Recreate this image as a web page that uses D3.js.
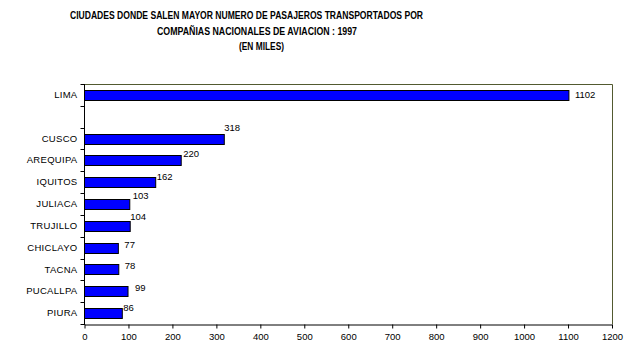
<!DOCTYPE html>
<html>
<head>
<meta charset="utf-8">
<script src="https://cdn.jsdelivr.net/npm/d3@7"></script>
<style>
  html, body { margin: 0; padding: 0; background: #fff; }
  svg { display: block; }
  text { font-family: "Liberation Sans", Arial, sans-serif; fill: #000; }
</style>
</head>
<body>
<svg id="chart" width="633" height="354"></svg>
<script>
// ---- data ----
const titleLines = [
  "CIUDADES DONDE SALEN MAYOR NUMERO DE PASAJEROS TRANSPORTADOS POR",
  "COMPAÑIAS NACIONALES DE AVIACION : 1997",
  "(EN MILES)"
];
const categories = ["LIMA", "", "CUSCO", "AREQUIPA", "IQUITOS", "JULIACA", "TRUJILLO", "CHICLAYO", "TACNA", "PUCALLPA", "PIURA"];
const values = [1102, null, 318, 220, 162, 103, 104, 77, 78, 99, 86];
const xTicks = [0, 100, 200, 300, 400, 500, 600, 700, 800, 900, 1000, 1100, 1200];
// hand-placed label nudges (layout only): [dx, dy] from bar end / bar centre
const labelNudge = [[6, 0], [0, 0], [0, -11.5], [2, -7], [1, -5.5], [3, -9], [0, -9], [6, -3.6], [6, -3.5], [7, -4], [1, -6]];

// ---- layout ----
const svg = d3.select("#chart");
const pLeft = 84.5, pRight = 612, pTop = 84, pBottom = 324;

const x = d3.scaleLinear().domain([0, 1200]).range([pLeft, pRight]);
const y = d3.scaleBand().domain(categories).range([pTop, pBottom]).paddingInner(0).paddingOuter(0);
const barH = y.bandwidth() / 2.2;

// title
const titleX = [[70, 353], [157, 200], [239, 45]];
const titleY = [19, 35, 50];
svg.selectAll("text.title").data(titleLines).enter().append("text")
  .attr("class", "title")
  .attr("x", (d, i) => titleX[i][0])
  .attr("y", (d, i) => titleY[i])
  .attr("textLength", (d, i) => titleX[i][1])
  .attr("lengthAdjust", "spacingAndGlyphs")
  .style("font-size", "11px")
  .style("font-weight", "bold")
  .text(d => d);

// frame top/right
svg.append("path")
  .attr("d", `M${pLeft},${pTop + 0.5}H${pRight + 0.5}V${pBottom}`)
  .attr("fill", "none")
  .attr("stroke", "#525a30")
  .attr("stroke-width", 1);

// bars
const data = categories.map((c, i) => ({ c, v: values[i], n: labelNudge[i] })).filter(d => d.v != null);
svg.selectAll("rect.bar").data(data).enter().append("rect")
  .attr("class", "bar")
  .attr("x", x(0))
  .attr("y", d => Math.round(y(d.c) + y.bandwidth() / 2 - barH / 2) + 0.5)
  .attr("width", d => x(d.v) - x(0))
  .attr("height", Math.round(barH))
  .attr("fill", "#0000ff")
  .attr("stroke", "#000")
  .attr("stroke-width", 1);

// data labels
svg.selectAll("text.lbl").data(data).enter().append("text")
  .attr("class", "lbl")
  .attr("x", d => x(d.v) + d.n[0])
  .attr("y", d => y(d.c) + y.bandwidth() / 2 + d.n[1] + 3.5)
  .style("font-size", "9.5px")
  .text(d => d.v);

// left axis (category labels + boundary ticks)
const yAxis = d3.axisLeft(y).tickSize(0).tickPadding(7);
const gy = svg.append("g").attr("transform", `translate(${pLeft},0)`).call(yAxis);
gy.select(".domain").remove();
gy.selectAll("text").style("font-size", "9.5px").style("letter-spacing", "0.3px")
  .style("font-family", "'Liberation Sans', Arial, sans-serif");
const bounds = categories.map(c => y(c)).concat([pBottom]);
svg.append("g").selectAll("line").data(bounds).enter().append("line")
  .attr("x1", pLeft - 4).attr("x2", pLeft)
  .attr("y1", d => Math.round(d) + 0.5).attr("y2", d => Math.round(d) + 0.5)
  .attr("stroke", "#000");
svg.append("line")
  .attr("x1", pLeft).attr("x2", pLeft)
  .attr("y1", pTop).attr("y2", pBottom + 1)
  .attr("stroke", "#000");

// bottom axis
const xAxis = d3.axisBottom(x).tickValues(xTicks).tickFormat(d3.format("d"))
  .tickSize(4).tickPadding(5).tickSizeOuter(0);
const gx = svg.append("g").attr("transform", `translate(0,${pBottom + 0.5})`).call(xAxis);
gx.selectAll("text").style("font-size", "9.5px").style("font-family", "'Liberation Sans', Arial, sans-serif");
gx.select(".domain").attr("stroke", "#000");
</script>
</body>
</html>
